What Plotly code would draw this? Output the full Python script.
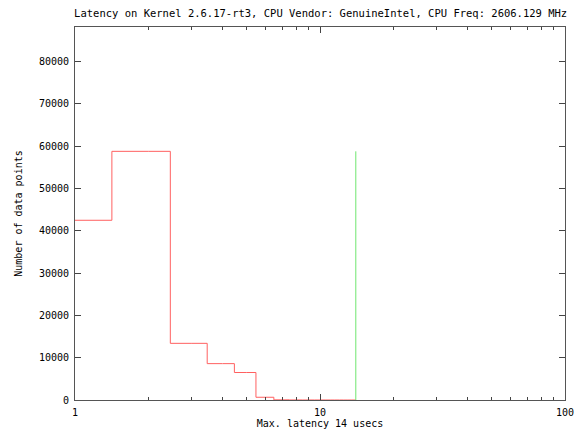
import plotly.graph_objects as go

latency_us = [1, 2, 3, 4, 5, 6, 7, 8, 9, 10, 11, 12, 13, 14]
counts = [42500, 58800, 13400, 8600, 6500, 650, 40, 15, 8, 5, 3, 2, 1, 1]
max_latency = 14
max_count = max(counts)

y_ticks = [0, 10000, 20000, 30000, 40000, 50000, 60000, 70000, 80000]
y_tick_labels = [str(v) for v in y_ticks]
x_ticks = [1, 10, 100]
x_tick_labels = ["1", "10", "100"]
x_minor_ticks = [2, 3, 4, 5, 6, 7, 8, 9, 20, 30, 40, 50, 60, 70, 80, 90]

title_text = "Latency on Kernel 2.6.17-rt3, CPU Vendor: GenuineIntel, CPU Freq: 2606.129 MHz"
x_title = "Max. latency %d usecs" % max_latency
y_title = "Number of data points"

font = "DejaVu Sans Mono"

fig = go.Figure()
fig.add_trace(go.Scatter(x=latency_us, y=counts, mode="lines",
                         line=dict(color="rgb(255,96,96)", width=1, shape="hvh"),
                         showlegend=False))
fig.add_trace(go.Scatter(x=[max_latency, max_latency], y=[0, max_count], mode="lines",
                         line=dict(color="rgb(110,230,110)", width=1),
                         showlegend=False))

fig.update_layout(
    width=583, height=432,
    margin=dict(l=75, r=18, t=27, b=32),
    paper_bgcolor="white", plot_bgcolor="white",
    font=dict(family=font, size=10, color="black"),
    title=dict(text=title_text, x=0.55, xanchor="center", y=1 - 13 / 432, yanchor="middle",
               font=dict(family=font, size=10.5, color="black")),
)
fig.update_xaxes(
    type="log", range=[0, 2], tickvals=x_ticks, ticktext=x_tick_labels,
    ticks="inside", ticklen=6, tickcolor="#444", showgrid=False, zeroline=False,
    showline=True, linecolor="#555", linewidth=1, mirror="ticks", layer="above traces",
    minor=dict(ticks="inside", ticklen=3, tickcolor="#444",
               tickvals=x_minor_ticks, showgrid=False),
    title=dict(text=x_title, standoff=2, font=dict(family=font, size=10)),
    ticklabelstandoff=3, automargin=False,
)
fig.update_yaxes(
    range=[0, max_count * 1.5], tickvals=y_ticks, ticktext=y_tick_labels,
    ticks="inside", ticklen=6, tickcolor="#444", showgrid=False, zeroline=False,
    showline=True, linecolor="#555", linewidth=1, mirror="ticks", layer="above traces",
    title=dict(text=y_title, standoff=14, font=dict(family=font, size=10)),
    ticklabelstandoff=3, automargin=False,
)
fig.write_html("out.html")
